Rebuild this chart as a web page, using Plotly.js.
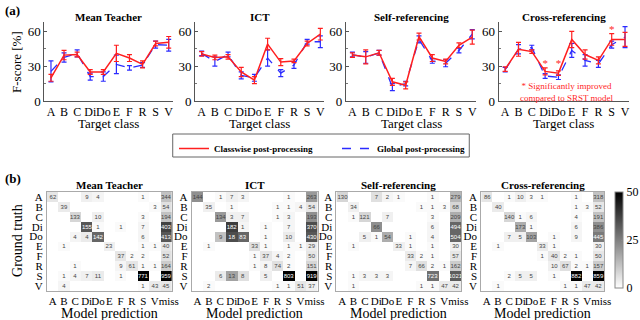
<!DOCTYPE html>
<html>
<head>
<meta charset="utf-8">
<script src="https://cdn.plot.ly/plotly-3.0.1.min.js"></script>
<style>
  html, body { margin: 0; padding: 0; background: #fff; }
  #chart { width: 640px; height: 320px; }
</style>
</head>
<body>
<div id="chart"></div>
<script>
// target classes (top panels + heatmap rows)
const classes = ['A', 'B', 'C', 'Di', 'Do', 'E', 'F', 'R', 'S', 'V'];
// heatmap columns
const predLabels = ['A', 'B', 'C', 'Di', 'Do', 'E', 'F', 'R', 'S', 'V', 'miss'];

// (a) F-score [%], mean and error
const mtClasswise = [20, 39.5, 40, 25, 25, 41, 37, 31.5, 49.5, 50.5];
const mtClasswiseErr = [3, 4, 2, 2, 2, 7, 3, 3, 2, 5];
const mtGlobal = [25.5, 37.5, 41, 21, 21, 31.5, 28.5, 31, 48.5, 48];
const mtGlobalErr = [9, 4, 3, 3, 4, 8, 2, 2, 3, 5];

const ictClasswise = [40.5, 37.5, 38, 25, 18, 49, 33.5, 34.5, 49.5, 57.5];
const ictClasswiseErr = [2, 2, 2, 4, 3, 5, 3, 1.5, 2, 5];
const ictGlobal = [41, 34, 40, 22, 20, 37, 24, 31, 51, 51];
const ictGlobalErr = [2, 4, 2, 3, 3, 7, 3, 3, 2, 5];

const selfClasswise = [39.5, 38, 41.5, 16.5, 13.5, 55.5, 37, 34, 48, 55];
const selfClasswiseErr = [2, 6, 2, 3, 3, 3, 3, 2, 2, 6];
const selfGlobal = [40, 37.5, 41.5, 12, 15, 53, 34.5, 32.5, 43.5, 57.5];
const selfGlobalErr = [2, 5, 2, 3, 2, 3, 2, 3, 2, 4];

const crossClasswise = [27.5, 44.5, 42.5, 25.5, 24, 53, 40, 35, 53, 53];
const crossClasswiseErr = [2, 6, 1.5, 3, 2, 7, 4, 3, 5, 6];
const crossGlobal = [27, 44.5, 46, 21.5, 20.5, 43.5, 35, 32, 48.5, 55];
const crossGlobalErr = [2, 4, 2, 2, 2, 6, 5, 3, 3, 9];

// significance marks on cross-referencing
const sigClasses = ['Di', 'Do', 'S'];
const sigY = [32, 32, 61];

// (b) confusion counts (rows = ground truth, cols = prediction)
const _ = null;
const mtCounts = [
  [62, _, _, 9, 4, _, _, _, 1, _, 344],
  [_, 39, _, _, _, _, _, _, _, 3, 54],
  [_, _, 133, _, 10, _, _, _, 3, _, 194],
  [_, _, _, 155, 1, _, 1, _, 7, _, 403],
  [_, _, 4, 4, 142, _, _, _, 6, _, 413],
  [_, 1, _, _, _, 23, _, _, 1, 1, 40],
  [_, _, _, _, _, _, 37, 2, 2, _, 52],
  [_, _, 1, _, _, _, 9, 61, 1, 1, 164],
  [_, 1, 4, 7, 11, _, 1, _, 771, _, 959],
  [_, 4, _, _, _, _, _, _, 1, 43, 45]
];
const mtShade = [
  [5, _, _, 3, 2, _, _, _, 1, _, 12],
  [_, 4, _, _, _, _, _, _, _, 1, 6],
  [_, _, 8, _, 3, _, _, _, 1, _, 12],
  [_, _, _, 33, 1, _, 1, _, 2, _, 37],
  [_, _, 2, 4, 30, _, _, _, 2, _, 33],
  [_, 1, _, _, _, 3, _, _, 1, 1, 5],
  [_, _, _, _, _, _, 5, 1, 1, _, 6],
  [_, _, 1, _, _, _, 2, 5, 1, 1, 10],
  [_, 1, 2, 3, 4, _, 1, _, 50, _, 50],
  [_, 2, _, _, _, _, _, _, 1, 4, 5]
];

const ictCounts = [
  [144, _, 1, 7, 3, _, _, _, 1, _, 263],
  [_, 35, _, 1, _, _, _, 1, 1, 4, 54],
  [_, _, 134, 3, 7, _, _, 1, 3, _, 193],
  [_, _, _, 182, 1, _, 1, _, 7, _, 370],
  [_, _, 9, 18, 83, _, 1, _, 10, _, 430],
  [_, 1, _, _, _, 33, 1, _, 1, 1, 29],
  [_, _, _, _, _, 1, 37, 4, 2, _, 50],
  [_, _, _, _, _, 1, 8, 74, 2, _, 151],
  [_, _, 6, 13, 8, _, 5, _, 803, _, 919],
  [_, 2, _, _, _, _, _, 1, 1, 51, 37]
];
const ictShade = [
  [22, _, 1, 3, 2, _, _, _, 1, _, 20],
  [_, 3, _, 1, _, _, _, 1, 1, 2, 5],
  [_, _, 20, 3, 3, _, _, 1, 2, _, 22],
  [_, _, _, 38, 2, _, 1, _, 2, _, 35],
  [_, _, 12, 35, 30, _, 1, _, 4, _, 33],
  [_, 1, _, _, _, 6, 1, _, 1, 1, 4],
  [_, _, _, _, _, 1, 5, 2, 1, _, 5],
  [_, _, _, _, _, 1, 2, 6, 1, _, 8],
  [_, _, 4, 18, 6, _, 3, _, 50, _, 50],
  [_, 1, _, _, _, _, _, 1, 1, 5, 3]
];

const selfCounts = [
  [130, _, _, 7, 2, 1, _, _, 1, _, 279],
  [_, 34, _, _, _, _, _, 1, 1, 3, 68],
  [_, 1, 121, _, 7, _, _, _, 3, _, 209],
  [_, _, _, 66, _, _, _, _, 6, _, 494],
  [_, _, 5, 1, 54, _, 1, _, 4, _, 504],
  [_, 1, _, _, _, 33, 1, _, 1, _, 30],
  [_, _, _, _, _, _, 33, 2, 1, _, 57],
  [_, _, _, _, _, _, 7, 66, 2, 1, 162],
  [_, 1, 3, 3, 3, _, _, _, 723, _, 1021],
  [_, 1, _, _, _, _, _, 1, 1, 47, 42]
];
const selfShade = [
  [8, _, _, 6, 2, 1, _, _, 1, _, 14],
  [_, 3, _, _, _, _, _, 1, 1, 1, 8],
  [_, 1, 8, _, 3, _, _, _, 1, _, 16],
  [_, _, _, 22, _, _, _, _, 2, _, 30],
  [_, _, 3, 1, 16, _, 1, _, 2, _, 30],
  [_, 1, _, _, _, 3, 1, _, 1, _, 3],
  [_, _, _, _, _, _, 4, 1, 1, _, 5],
  [_, _, _, _, _, _, 2, 6, 1, 1, 10],
  [_, 1, 2, 2, 2, _, _, _, 28, _, 32],
  [_, 1, _, _, _, _, _, 1, 1, 4, 4]
];

const crossCounts = [
  [86, _, 1, 10, 3, 1, _, _, 1, _, 318],
  [_, 40, _, _, _, _, _, _, 1, 3, 52],
  [_, _, 140, 1, 6, _, _, _, 4, _, 191],
  [_, _, _, 173, 1, _, _, _, 6, _, 386],
  [_, _, 7, 5, 103, _, 1, _, 9, _, 445],
  [_, 1, _, _, _, 33, 1, _, _, _, 30],
  [_, _, _, _, _, 1, 40, 2, 1, _, 50],
  [_, _, _, _, _, _, 10, 67, 2, 1, 157],
  [_, _, 2, 5, 5, _, 1, _, 882, _, 859],
  [_, 1, _, _, _, _, _, 1, 1, 47, 42]
];
const crossShade = [
  [5, _, 1, 3, 1, 1, _, _, 1, _, 12],
  [_, 4, _, _, _, _, _, _, 1, 1, 5],
  [_, _, 8, 1, 2, _, _, _, 1, _, 12],
  [_, _, _, 16, 1, _, _, _, 2, _, 22],
  [_, _, 3, 3, 18, _, 1, _, 2, _, 26],
  [_, 1, _, _, _, 4, 1, _, _, _, 3],
  [_, _, _, _, _, 1, 5, 1, 1, _, 5],
  [_, _, _, _, _, _, 3, 6, 1, 1, 10],
  [_, _, 1, 3, 3, _, 1, _, 50, _, 50],
  [_, 1, _, _, _, _, _, 1, 1, 4, 4]
];

const W = 640, H = 320;
const px = v => v / W;
const py = v => 1 - v / H;
const serif = 'Liberation Serif';
const RED = '#ff1f1f', BLUE = '#2b2bff';

// centred text label at pixel position
function label(x, y, text, font, extra) {
  return Object.assign({
    xref: 'paper', yref: 'paper', x: px(x), y: py(y), xanchor: 'center', yanchor: 'middle',
    text: text, showarrow: false, font: font
  }, extra || {});
}

const panels = [
  { title: 'Mean Teacher', cls: mtClasswise, clsErr: mtClasswiseErr, glob: mtGlobal, globErr: mtGlobalErr,
    counts: mtCounts, shade: mtShade, top: [44.5, 172.9], bot: [47, 172] },
  { title: 'ICT', cls: ictClasswise, clsErr: ictClasswiseErr, glob: ictGlobal, globErr: ictGlobalErr,
    counts: ictCounts, shade: ictShade, top: [195.4, 324.8], bot: [192, 318] },
  { title: 'Self-referencing', cls: selfClasswise, clsErr: selfClasswiseErr, glob: selfGlobal, globErr: selfGlobalErr,
    counts: selfCounts, shade: selfShade, top: [346.3, 477], bot: [337, 462] },
  { title: 'Cross-referencing', cls: crossClasswise, clsErr: crossClasswiseErr, glob: crossGlobal, globErr: crossGlobalErr,
    counts: crossCounts, shade: crossShade, top: [499.3, 630], bot: [482, 605] }
];

// 'miss' label nudged right so it clears the V label
const predTickText = predLabels.map(l => (l === 'miss' ? '\u00a0\u00a0miss' : l));

const data = [];
const layout = {
  width: W, height: H,
  margin: { l: 0, r: 0, t: 0, b: 0 },
  paper_bgcolor: '#fff', plot_bgcolor: 'rgba(0,0,0,0)',
  font: { family: serif, color: '#000', size: 12 },
  showlegend: true,
  legend: {
    orientation: 'h', x: px(174), y: py(134), xanchor: 'left', yanchor: 'top',
    borderwidth: 0, bgcolor: 'rgba(0,0,0,0)',
    font: { family: serif, size: 9, weight: 'bold' },
    entrywidth: 118, itemwidth: 30, tracegroupgap: 0
  },
  annotations: [],
  // legend frame
  shapes: [{
    type: 'rect', xref: 'paper', yref: 'paper', x0: px(173), x1: px(470), y0: py(157), y1: py(134),
    line: { color: '#666', width: 1 }, fillcolor: 'rgba(0,0,0,0)', layer: 'below'
  }]
};

panels.forEach((p, i) => {
  // top row: F-score lines
  const xa = 'x' + (i + 1), ya = 'y' + (i + 1);
  data.push({
    x: classes, y: p.glob, xaxis: xa, yaxis: ya, type: 'scatter', mode: 'lines',
    name: 'Global post-processing', legendrank: 2, showlegend: i === 0,
    line: { color: BLUE, width: 1.3, dash: 'dash' },
    error_y: { type: 'data', array: p.globErr, color: BLUE, thickness: 1.2, width: 2.5 }
  });
  data.push({
    x: classes, y: p.cls, xaxis: xa, yaxis: ya, type: 'scatter', mode: 'lines',
    name: 'Classwise post-processing', legendrank: 1, showlegend: i === 0,
    line: { color: RED, width: 1.5 },
    error_y: { type: 'data', array: p.clsErr, color: RED, thickness: 1.2, width: 2.5 }
  });
  layout['xaxis' + (i + 1)] = {
    domain: [px(p.top[0]), px(p.top[1])], anchor: ya, type: 'category',
    range: [-0.5, 9.3], tickmode: 'array', tickvals: classes, ticktext: classes, tickangle: 0,
    showline: true, linecolor: '#555', linewidth: 1,
    ticks: '', tickfont: { size: 12 }, showgrid: false, zeroline: false, fixedrange: true
  };
  layout['yaxis' + (i + 1)] = {
    domain: [py(101), py(22)], anchor: xa, range: [0, 68],
    tickvals: [0, 30, 60], showline: true, linecolor: '#555', linewidth: 1,
    ticks: 'inside', ticklen: 3, tickcolor: '#555', tickfont: { size: 13 },
    minor: { dtick: 15, ticks: 'inside', ticklen: 2, tickcolor: '#777' },
    showgrid: false, zeroline: false, fixedrange: true
  };
  const topMid = (p.top[0] + p.top[1]) / 2;
  layout.annotations.push(label(topMid, 17, '<b>' + p.title + '</b>', { size: 11 }));
  layout.annotations.push(label(topMid, 123, 'Target class', { size: 13 }));

  // bottom row: confusion heatmaps
  const hx = 'x' + (i + 5), hy = 'y' + (i + 5);
  data.push({
    type: 'heatmap', x: predLabels, y: classes, z: p.shade, xaxis: hx, yaxis: hy,
    text: p.counts.map(r => r.map(v => (v === null ? '' : String(v)))),
    texttemplate: '%{text}', textfont: { size: 6, family: 'Liberation Sans' },
    zmin: 0, zmax: 50, colorscale: [[0, '#ffffff'], [1, '#000000']],
    showscale: i === 3, hoverongaps: false, xgap: 0, ygap: 0, showlegend: false,
    colorbar: {
      x: px(615), xanchor: 'left', y: py(240), yanchor: 'middle',
      len: 96, lenmode: 'pixels', thickness: 8, thicknessmode: 'pixels',
      outlinecolor: '#888', outlinewidth: 1, tickvals: [0, 25, 50],
      ticks: 'inside', ticklen: 2, tickcolor: '#888',
      tickfont: { family: serif, size: 12 }, xpad: 0, ypad: 0
    }
  });
  layout['xaxis' + (i + 5)] = {
    domain: [px(p.bot[0]), px(p.bot[1])], anchor: hy, type: 'category',
    tickmode: 'array', tickvals: predLabels, ticktext: predTickText, tickangle: 0,
    showline: true, mirror: true, linecolor: '#aaa', linewidth: 1,
    ticks: '', tickfont: { size: 11 }, showgrid: false, zeroline: false, fixedrange: true
  };
  layout['yaxis' + (i + 5)] = {
    domain: [py(291), py(192)], anchor: hx, type: 'category', autorange: 'reversed',
    tickmode: 'array', tickvals: classes, ticktext: classes, tickangle: 0,
    showline: true, mirror: true, linecolor: '#aaa', linewidth: 1,
    ticks: '', ticklabelstandoff: 1, tickfont: { size: 11 }, showgrid: false, zeroline: false, fixedrange: true
  };
  const botMid = (p.bot[0] + p.bot[1]) / 2;
  layout.annotations.push(label(botMid, 185, '<b>' + p.title + '</b>', { size: 11 }));
  layout.annotations.push(label(botMid, 313, 'Model prediction', { size: 14 }));
});

// significance asterisks
data.push({
  x: sigClasses, y: sigY, xaxis: 'x4', yaxis: 'y4', type: 'scatter', mode: 'text',
  text: sigClasses.map(() => '*'), textfont: { color: RED, size: 11, family: serif },
  showlegend: false, hoverinfo: 'skip'
});

layout.annotations.push(
  label(568, 92, '* Significantly improved<br>compared to SRST model', { size: 9, color: RED }),
  label(17, 62, 'F-score [%]', { size: 13 }, { textangle: -90 }),
  label(17, 240, 'Ground truth', { size: 14 }, { textangle: -90 }),
  label(13, 10, '<b>(a)</b>', { size: 13 }),
  label(13, 178, '<b>(b)</b>', { size: 13 })
);

Plotly.newPlot('chart', data, layout, { staticPlot: true, displayModeBar: false });
</script>
</body>
</html>
